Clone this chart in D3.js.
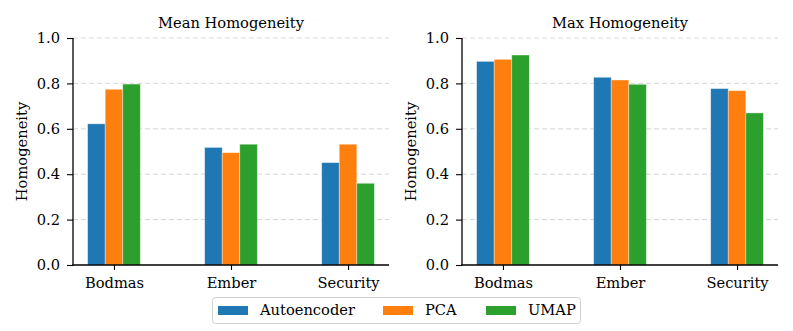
<!DOCTYPE html>
<html><head><meta charset="utf-8">
<script src="https://cdn.jsdelivr.net/npm/d3@7"></script>
<style>body{margin:0;background:#fff}svg{display:block}svg text{font-family:"DejaVu Serif",serif !important;fill:#000}</style>
</head><body><svg id="c" width="793" height="331" font-family="DejaVu Serif"></svg>
<script>
const categories = ["Bodmas", "Ember", "Security"];
const methods = ["Autoencoder", "PCA", "UMAP"];
const colors = ["#1f77b4", "#ff7f0e", "#2ca02c"];
const meanValues = [[0.622, 0.518, 0.451], [0.774, 0.495, 0.532], [0.797, 0.532, 0.360]];
const maxValues = [[0.897, 0.827, 0.777], [0.906, 0.815, 0.768], [0.925, 0.796, 0.670]];
const yTicks = [0, 0.2, 0.4, 0.6, 0.8, 1.0];
const titles = ["Mean Homogeneity", "Max Homogeneity"];
const yLabel = "Homogeneity";

const FS = "14.67px";
const FF = '"DejaVu Serif", serif';
const svg = d3.select("#c");
const panels = [{x0: 73, x1: 389, vals: meanValues, title: titles[0]},
                {x0: 462, x1: 778, vals: maxValues, title: titles[1]}];
const yTop = 38, yBot = 265;
const barW = 0.15;

panels.forEach(p => {
  const g = svg.append("g");
  const x = d3.scaleLinear().domain([-0.35, 2.35]).range([p.x0, p.x1]);
  const y = d3.scaleLinear().domain([0, 1]).range([yBot, yTop]);
  // grid
  g.selectAll("line.grid").data(yTicks.filter(t => t > 0)).enter().append("line")
    .attr("x1", p.x0).attr("x2", p.x1).attr("y1", d => y(d)).attr("y2", d => y(d))
    .attr("stroke", "#b0b0b0").attr("stroke-opacity", 0.5).attr("stroke-width", 1)
    .attr("stroke-dasharray", "5,3");
  // bars
  methods.forEach((m, mi) => {
    g.selectAll(null).data(p.vals[mi]).enter().append("rect")
      .attr("x", (d, i) => x(i + (mi - 1) * barW - barW / 2))
      .attr("width", x(barW) - x(0))
      .attr("y", d => y(d)).attr("height", d => y(0) - y(d))
      .attr("fill", colors[mi]).attr("stroke", "#fff").attr("stroke-opacity", 0.45).attr("stroke-width", 0.8);
  });
  // axes
  const ya = d3.axisLeft(y).tickValues(yTicks).tickFormat(d3.format(".1f")).tickSize(6).tickPadding(7);
  const ga = g.append("g").attr("transform", `translate(${p.x0},0)`).call(ya);
  const xa = d3.axisBottom(x).tickValues([0, 1, 2]).tickFormat(i => categories[i]).tickSize(5).tickPadding(8);
  const gx = g.append("g").attr("transform", `translate(0,${yBot})`).call(xa);
  [ga, gx].forEach(a => {
    a.attr("font-family", FF).attr("font-size", FS);
    a.select(".domain").remove();
    a.selectAll("line").attr("stroke", "#000").attr("stroke-width", 1.1);
    a.selectAll("text").attr("font-family", FF).style("font-family", FF).style("font-size", FS).attr("fill", "#000");
  });
  g.append("line").attr("x1", p.x0).attr("x2", p.x0).attr("y1", yTop).attr("y2", yBot + 0.6).attr("stroke", "#000").attr("stroke-width", 1.3);
  g.append("line").attr("x1", p.x0 - 0.6).attr("x2", p.x1).attr("y1", yBot).attr("y2", yBot).attr("stroke", "#000").attr("stroke-width", 1.3);
  // title
  g.append("text").attr("x", (p.x0 + p.x1) / 2).attr("y", 27.7).attr("text-anchor", "middle")
    .style("font-size", FS).text(p.title);
  // y label
  g.append("text").attr("transform", `translate(${p.x0 - 45.6},${(yTop + yBot) / 2}) rotate(-90)`)
    .attr("text-anchor", "middle").style("font-size", FS).text(yLabel);
});

// legend
const lg = svg.append("g");
lg.append("rect").attr("x", 212.5).attr("y", 297.5).attr("width", 368).attr("height", 26).attr("rx", 3)
  .attr("fill", "#fff").attr("stroke", "#d0d0d0").attr("stroke-width", 1);
const sw = [218, 383, 486];
methods.forEach((m, i) => {
  lg.append("rect").attr("x", sw[i]).attr("y", 306).attr("width", 30).attr("height", 9).attr("fill", colors[i]);
  lg.append("text").attr("x", sw[i] + 42).attr("y", 314.5).style("font-size", FS).text(m);
});
</script></body></html>
